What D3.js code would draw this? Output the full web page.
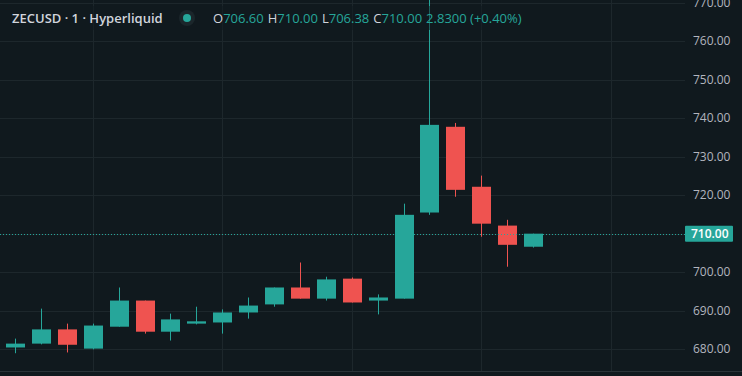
<!DOCTYPE html>
<html lang="en">
<head>
  <meta charset="utf-8">
  <title>ZECUSD 1m</title>
  <script src="https://d3js.org/d3.v7.min.js"></script>
  <style>
    body { margin: 0; background: #10191e; overflow: hidden; }
    text { font-family: "Open Sans", "Noto Sans", sans-serif; }
    .grid line { stroke: #1d272c; stroke-width: 1px; }
  </style>
</head>
<body>
<script type="text/javascript">
// candle data (one minute bars)
var opens  = [680.4, 681.4, 685.1, 680.1, 685.8, 692.6, 684.5, 686.6, 686.9, 689.5, 691.6, 696.0, 693.1, 698.3, 692.6, 693.1, 715.5, 737.8, 722.2, 712.1, 706.60];
var highs  = [682.7, 690.5, 686.6, 686.6, 696.0, 692.6, 689.2, 691.0, 690.3, 693.4, 696.0, 702.5, 698.8, 698.6, 694.2, 717.8, 772.0, 738.8, 725.1, 713.6, 710.00];
var lows   = [678.9, 681.2, 679.1, 679.9, 685.8, 684.0, 682.2, 686.4, 684.0, 687.9, 691.0, 693.1, 692.6, 692.1, 689.0, 693.1, 714.9, 719.6, 709.2, 701.4, 706.38];
var closes = [681.4, 685.1, 681.1, 686.1, 692.6, 684.5, 687.7, 687.2, 689.5, 691.3, 696.0, 693.1, 698.1, 692.1, 693.4, 714.9, 738.3, 721.4, 712.6, 707.1, 710.00];
var yTicks = [680, 690, 700, 710, 720, 730, 740, 750, 760, 770];
var xGridIdx = [3, 8, 13, 18, 23];
var lastPrice = 710.00;
var title = "ZECUSD \u00b7 1 \u00b7 Hyperliquid";
var ohlcLabels = ["O", "H", "L", "C"];
var ohlcValues = ["706.60", "710.00", "706.38", "710.00"];
var changeText = "2.8300 (+0.40%)";

var W = 742, H = 376;
var paneRight = 685;
var up = "#26a69a", down = "#ef5350";

var svg = d3.select("body").append("svg")
  .attr("width", W).attr("height", H);

var x = d3.scaleLinear().domain([0, 20]).range([15, 533]);
var y = d3.scaleLinear().domain([680, 770]).range([349, 3]);
var bodyW = 19;

// grid
var grid = svg.append("g").attr("class", "grid");
grid.selectAll(".h").data(yTicks).enter().append("line")
  .attr("x1", 0).attr("x2", paneRight)
  .attr("y1", function(d) { return Math.round(y(d)) + 0.5; })
  .attr("y2", function(d) { return Math.round(y(d)) + 0.5; });
grid.selectAll(".v").data(xGridIdx).enter().append("line")
  .attr("y1", 0).attr("y2", 371)
  .attr("x1", function(d) { return Math.round(x(d)) + 0.5; })
  .attr("x2", function(d) { return Math.round(x(d)) + 0.5; });

// bottom border of the pane
svg.append("line")
  .attr("x1", 0).attr("x2", W).attr("y1", 371.5).attr("y2", 371.5)
  .attr("stroke", "#2a3338");

// candles
var idx = d3.range(opens.length);
var candle = svg.append("g").selectAll("g").data(idx).enter().append("g");
candle.append("line")
  .attr("x1", function(i) { return Math.round(x(i)) + 0.5; })
  .attr("x2", function(i) { return Math.round(x(i)) + 0.5; })
  .attr("y1", function(i) { return y(highs[i]); })
  .attr("y2", function(i) { return y(lows[i]); })
  .attr("stroke", function(i) { return closes[i] >= opens[i] ? up : down; })
  .attr("stroke-width", 1);
candle.append("rect")
  .attr("x", function(i) { return Math.round(x(i)) - 9; })
  .attr("width", bodyW)
  .attr("y", function(i) { return y(Math.max(opens[i], closes[i])); })
  .attr("height", function(i) { return Math.max(2, Math.abs(y(opens[i]) - y(closes[i]))); })
  .attr("fill", function(i) { return closes[i] >= opens[i] ? up : down; });

// last price line
svg.append("line")
  .attr("x1", 0).attr("x2", paneRight)
  .attr("y1", Math.round(y(lastPrice)) + 0.5).attr("y2", Math.round(y(lastPrice)) + 0.5)
  .attr("stroke", up).attr("stroke-dasharray", "1,2");

// y axis labels (the last price tag takes the place of its own tick)
svg.append("g").selectAll("text")
  .data(yTicks.filter(function(d) { return d !== lastPrice; }))
  .enter().append("text")
  .attr("x", 693).attr("y", function(d) { return y(d) + 4; })
  .attr("fill", "#b2b5be").attr("font-size", 12)
  .text(function(d) { return d3.format(".2f")(d); });

// last price tag
svg.append("rect")
  .attr("x", 685).attr("y", y(lastPrice) - 8).attr("width", 48).attr("height", 16)
  .attr("fill", up).attr("rx", 1);
svg.append("text")
  .attr("x", 691).attr("y", y(lastPrice) + 4)
  .attr("fill", "#ffffff").attr("font-size", 12).attr("font-weight", 600)
  .text(d3.format(".2f")(lastPrice));

// header legend
svg.append("rect").attr("x", 6).attr("y", 6).attr("width", 518).attr("height", 24)
  .attr("fill", "#10191e").attr("opacity", 0.5);
svg.append("text").attr("x", 12).attr("y", 23)
  .attr("fill", "#d1d4dc").attr("font-size", 13).attr("font-weight", 600)
  .text(title);
svg.append("circle").attr("cx", 187).attr("cy", 18).attr("r", 8).attr("fill", "#1b262b");
svg.append("circle").attr("cx", 187).attr("cy", 18).attr("r", 4).attr("fill", up);

var legend = svg.append("text").attr("x", 213).attr("y", 23).attr("font-size", 13);
ohlcLabels.forEach(function(l, k) {
  legend.append("tspan").attr("fill", "#d1d4dc").attr("dx", k ? 4 : 0).text(l);
  legend.append("tspan").attr("fill", up).text(ohlcValues[k]);
});
legend.append("tspan").attr("fill", up).attr("dx", 4).text(changeText);
</script>
</body>
</html>
